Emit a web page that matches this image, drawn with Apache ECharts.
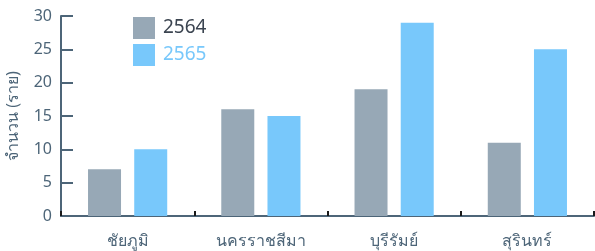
<!DOCTYPE html>
<html>
<head>
<meta charset="utf-8">
<script src="https://cdn.jsdelivr.net/npm/echarts@6/dist/echarts.min.js"></script>
<style>
  html, body { margin: 0; padding: 0; background: #fff; }
  #chart { width: 595px; height: 251px; }
</style>
</head>
<body>
<div id="chart"></div>
<script>
// data
var provinces = ['ชัยภูมิ', 'นครราชสีมา', 'บุรีรัมย์', 'สุรินทร์'];
var years = ['2564', '2565'];
var cases2564 = [7, 16, 19, 11];
var cases2565 = [10, 15, 29, 25];
var yTicks = { min: 0, max: 30, interval: 5 };

var axisColor = '#4d6578';
var grayBar = '#97a8b6';
var blueBar = '#78c8fb';
var font = '"Noto Sans", "DejaVu Sans", sans-serif';

var chart = echarts.init(document.getElementById('chart'));
var option = {
    animation: false,
    textStyle: { fontFamily: font },
    grid: { left: 61, right: 1, top: 16, bottom: 35, containLabel: false, outerBoundsMode: 'none' },
    legend: {
        orient: 'vertical',
        left: 133,
        top: 17,
        padding: 0,
        itemWidth: 22,
        itemHeight: 22,
        itemGap: 5,
        icon: 'rect',
        textStyle: { fontSize: 19, fontFamily: font, padding: [0, 0, 0, 3] },
        data: [
            { name: years[0], textStyle: { color: '#3b4450' } },
            { name: years[1], textStyle: { color: blueBar } }
        ]
    },
    xAxis: {
        type: 'category',
        data: provinces,
        axisLine: { lineStyle: { color: axisColor, width: 2 } },
        axisTick: {
            show: true,
            inside: true,
            length: 5,
            alignWithLabel: false,
            lineStyle: { color: '#1a1a1a', width: 2 }
        },
        axisLabel: { color: axisColor, fontSize: 16, margin: 17, fontFamily: font }
    },
    yAxis: {
        type: 'value',
        min: yTicks.min,
        max: yTicks.max,
        interval: yTicks.interval,
        name: 'จำนวน (ราย)',
        nameLocation: 'middle',
        nameGap: 40,
        nameTextStyle: { color: axisColor, fontSize: 16, fontFamily: font },
        axisLine: { show: true, lineStyle: { color: axisColor, width: 2 } },
        axisTick: { show: true, inside: true, length: 12, lineStyle: { color: axisColor, width: 2 } },
        axisLabel: { color: axisColor, fontSize: 16, margin: 9, fontFamily: font },
        splitLine: { show: false }
    },
    series: [
        {
            name: years[0],
            type: 'bar',
            data: cases2564,
            barWidth: 33,
            barGap: '40%',
            itemStyle: { color: grayBar }
        },
        {
            name: years[1],
            type: 'bar',
            data: cases2565,
            barWidth: 33,
            barGap: '40%',
            itemStyle: { color: blueBar }
        }
    ]
};
chart.setOption(option);
</script>
</body>
</html>
